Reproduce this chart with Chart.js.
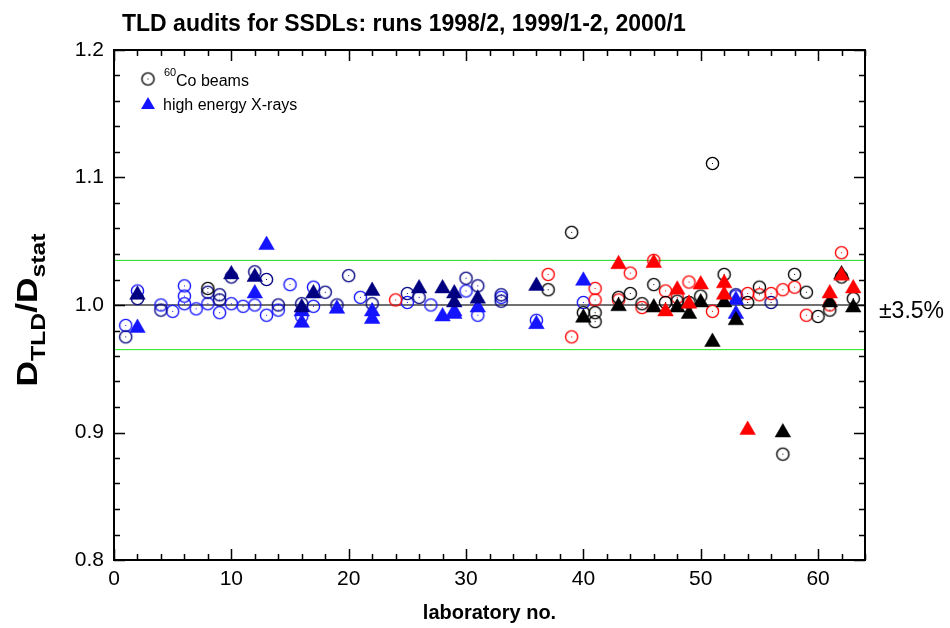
<!DOCTYPE html>
<html><head><meta charset="utf-8">
<script src="https://cdn.jsdelivr.net/npm/chart.js@4/dist/chart.umd.min.js"></script>
<style>html,body{margin:0;padding:0;background:#fff}</style>
</head><body>
<canvas id="c" width="950" height="628"></canvas>
<script>
// ---- data (laboratory number, D_TLD/D_stat) ----
const coBlueLab = [1,2,4,5,6,6,6,7,8,9,10,11,12,13,14,15,16,17,17,21,25,27,30,31,33,36,40,53];
const coBlueVal = [0.984,1.011,1.000,0.995,1.015,1.007,1.001,0.997,1.001,0.994,1.001,0.999,1.000,0.992,0.996,1.016,0.991,1.014,0.999,1.006,1.002,1.000,1.011,0.992,1.006,0.988,1.002,1.007];
const coNavyLab = [1,2,4,8,9,9,10,12,13,14,16,18,19,20,22,25,26,30,31,33,33,53,56];
const coNavyVal = [0.975,1.005,0.996,1.010,1.008,1.004,1.022,1.026,1.020,1.000,1.001,1.010,1.000,1.023,1.001,1.009,1.006,1.021,1.015,1.008,1.003,1.008,1.002];
const coRedLab = [24,37,39,41,41,43,44,45,46,47,48,49,51,54,55,56,57,58,59,61,62];
const coRedVal = [1.004,1.024,0.975,1.013,1.004,1.004,1.025,0.998,1.035,1.011,1.006,1.018,0.995,1.009,1.008,1.009,1.012,1.014,0.992,1.000,1.041];
const coBlackLab = [8,37,39,40,41,41,43,44,45,46,47,48,49,50,51,52,54,55,57,58,59,60,61,62,63];
const coBlackVal = [1.013,1.012,1.057,0.994,0.994,0.987,1.006,1.009,1.001,1.016,1.002,1.003,1.002,1.007,1.111,1.024,1.002,1.014,0.883,1.024,1.010,0.991,0.996,1.022,1.005];
const xrBlueLab = [2,12,13,16,16,19,22,22,28,29,29,31,36,40,53,53];
const xrBlueVal = [0.982,1.009,1.047,0.995,0.986,0.997,0.995,0.989,0.991,0.995,0.993,0.998,0.985,1.019,1.004,0.993];
const xrNavyLab = [2,10,12,16,17,22,26,28,29,29,31,36];
const xrNavyVal = [1.008,1.024,1.022,0.998,1.009,1.011,1.013,1.013,1.009,1.002,1.005,1.015];
const xrBlackLab = [40,43,46,48,49,50,51,52,53,57,61,62,63];
const xrBlackVal = [0.990,0.999,0.998,0.998,0.993,1.002,0.971,1.002,0.988,0.900,1.002,1.024,0.998];
const xrRedLab = [43,46,47,48,49,50,52,52,54,61,62,63];
const xrRedVal = [1.032,1.033,0.995,1.012,1.001,1.016,1.017,1.008,0.902,1.009,1.023,1.013];
const refLevels = [1.0, 1.035, 0.965];
const xTickLabels = [0,10,20,30,40,50,60];
const yTickLabels = ['0.8','0.9','1.0','1.1','1.2'];

const BLUE = '#1414ff', NAVY = '#000080', RED = '#ff0000', BLACK = '#000000';
const FONT = '"Liberation Sans", Arial, sans-serif';

function circleImg(color){
  const c = document.createElement('canvas');
  c.width = 17; c.height = 17;
  const g = c.getContext('2d');
  g.strokeStyle = color; g.lineWidth = 1.4;
  g.beginPath(); g.arc(8.5,8.5,6.1,0,Math.PI*2); g.stroke();
  g.fillStyle = color; g.fillRect(8,8,1,1);
  return c;
}
function pts(lab, val){ return lab.map((x,i)=>({x:x, y:val[i]})); }
function circles(lab,val,color,order){
  return {type:'scatter', data:pts(lab,val), pointStyle:circleImg(color), pointRadius:6, order:order,
          borderColor:color, backgroundColor:color};
}
function tris(lab,val,color,order){
  return {type:'scatter', data:pts(lab,val), pointStyle:'triangle', pointRadius:9, order:order,
          borderColor:color, backgroundColor:color, borderWidth:0.5};
}
function refLine(v,color,w){
  return {type:'line', data:[{x:0,y:v},{x:64,y:v}], borderColor:color, borderWidth:w,
          pointRadius:0, order:20, fill:false};
}

const decor = {
  id:'decor',
  afterDraw(chart){
    const ctx = chart.ctx, a = chart.chartArea;
    const xs = chart.scales.x, ys = chart.scales.y;
    ctx.save();
    ctx.strokeStyle = '#000'; ctx.lineWidth = 2;
    ctx.strokeRect(a.left, a.top, a.right-a.left, a.bottom-a.top);
    ctx.lineWidth = 1.5;
    ctx.beginPath();
    for (let v=0; v<=64; v+=2){
      const p = Math.round(xs.getPixelForValue(v))+0.5;
      const L = (v%10===0)?11:6;
      ctx.moveTo(p,a.bottom); ctx.lineTo(p,a.bottom-L);
      ctx.moveTo(p,a.top); ctx.lineTo(p,a.top+L);
    }
    for (let i=0;i<=20;i++){
      const v = 0.8 + i*0.02;
      const p = Math.round(ys.getPixelForValue(v))+0.5;
      const L = (i%5===0)?11:6;
      ctx.moveTo(a.left,p); ctx.lineTo(a.left+L,p);
      ctx.moveTo(a.right,p); ctx.lineTo(a.right-L,p);
    }
    ctx.stroke();
    // title
    ctx.fillStyle = '#000';
    ctx.textBaseline = 'alphabetic'; ctx.textAlign = 'left';
    ctx.font = 'bold 23px ' + FONT;
    ctx.fillText('TLD audits for SSDLs: runs 1998/2, 1999/1-2, 2000/1', 122, 31);
    // x title
    ctx.textAlign = 'center';
    ctx.font = 'bold 20px ' + FONT;
    ctx.fillText('laboratory no.', (a.left+a.right)/2, 619);
    // ±3.5%
    ctx.textAlign = 'left';
    ctx.font = '23px ' + FONT;
    ctx.fillText('\u00b13.5%', 879, 318);
    // y title with subscripts
    ctx.save();
    ctx.translate(37, 310);
    ctx.rotate(-Math.PI/2);
    ctx.scale(1.18, 1);
    const big = 'bold 30px ' + FONT, small = 'bold 21px ' + FONT;
    const parts = [['D',big,0],['TLD',small,8],['/',big,0],['D',big,0],['stat',small,8]];
    let tot = 0;
    parts.forEach(p=>{ctx.font=p[1]; tot += ctx.measureText(p[0]).width;});
    let x = -tot/2;
    parts.forEach(p=>{ctx.font=p[1]; ctx.fillText(p[0], x, p[2]); x += ctx.measureText(p[0]).width;});
    ctx.restore();
    // legend
    ctx.drawImage(circleImg(BLACK), 148-8.5, 79-8.5);
    ctx.fillStyle = BLUE;
    ctx.beginPath();
    const r = 8, cx = 148, cy = 105;
    ctx.moveTo(cx, cy-r); ctx.lineTo(cx+0.866*r, cy+r/2); ctx.lineTo(cx-0.866*r, cy+r/2); ctx.closePath(); ctx.fill();
    ctx.fillStyle = '#000';
    ctx.font = '11px ' + FONT;
    ctx.fillText('60', 164, 76);
    ctx.font = '16px ' + FONT;
    ctx.fillText('Co beams', 176, 86);
    ctx.fillText('high energy X-rays', 163, 110);
    ctx.restore();
  }
};

new Chart(document.getElementById('c'), {
  data: {
    datasets: [
      circles(coBlueLab, coBlueVal, BLUE, 8),
      circles(coNavyLab, coNavyVal, NAVY, 7),
      circles(coRedLab, coRedVal, RED, 6),
      circles(coBlackLab, coBlackVal, BLACK, 5),
      tris(xrBlueLab, xrBlueVal, BLUE, 4),
      tris(xrNavyLab, xrNavyVal, NAVY, 3),
      tris(xrBlackLab, xrBlackVal, BLACK, 2),
      tris(xrRedLab, xrRedVal, RED, 1),
      refLine(refLevels[0], '#707070', 2),
      refLine(refLevels[1], '#1ed81e', 1),
      refLine(refLevels[2], '#1ee81e', 1)
    ]
  },
  options: {
    responsive:false, animation:false, devicePixelRatio:1,
    layout:{padding:{left:0, top:50, right:85, bottom:0}},
    plugins:{legend:{display:false}, tooltip:{enabled:false}, title:{display:false}},
    scales:{
      x:{type:'linear', min:0, max:64,
         grid:{display:false, drawTicks:false}, border:{display:false},
         afterBuildTicks(s){ s.ticks = xTickLabels.map(v=>({value:v})); },
         afterFit(s){ s.height = 68; },
         ticks:{padding:7, color:'#000', font:{family:FONT, size:21}, callback:v=>String(v)}},
      y:{type:'linear', min:0.8, max:1.2,
         grid:{display:false, drawTicks:false}, border:{display:false},
         afterBuildTicks(s){ s.ticks = yTickLabels.map(v=>({value:parseFloat(v)})); },
         afterFit(s){ s.width = 114; },
         ticks:{padding:10, color:'#000', font:{family:FONT, size:21}, callback:v=>v.toFixed(1)}}
    }
  },
  plugins:[decor]
});
</script>
</body></html>
